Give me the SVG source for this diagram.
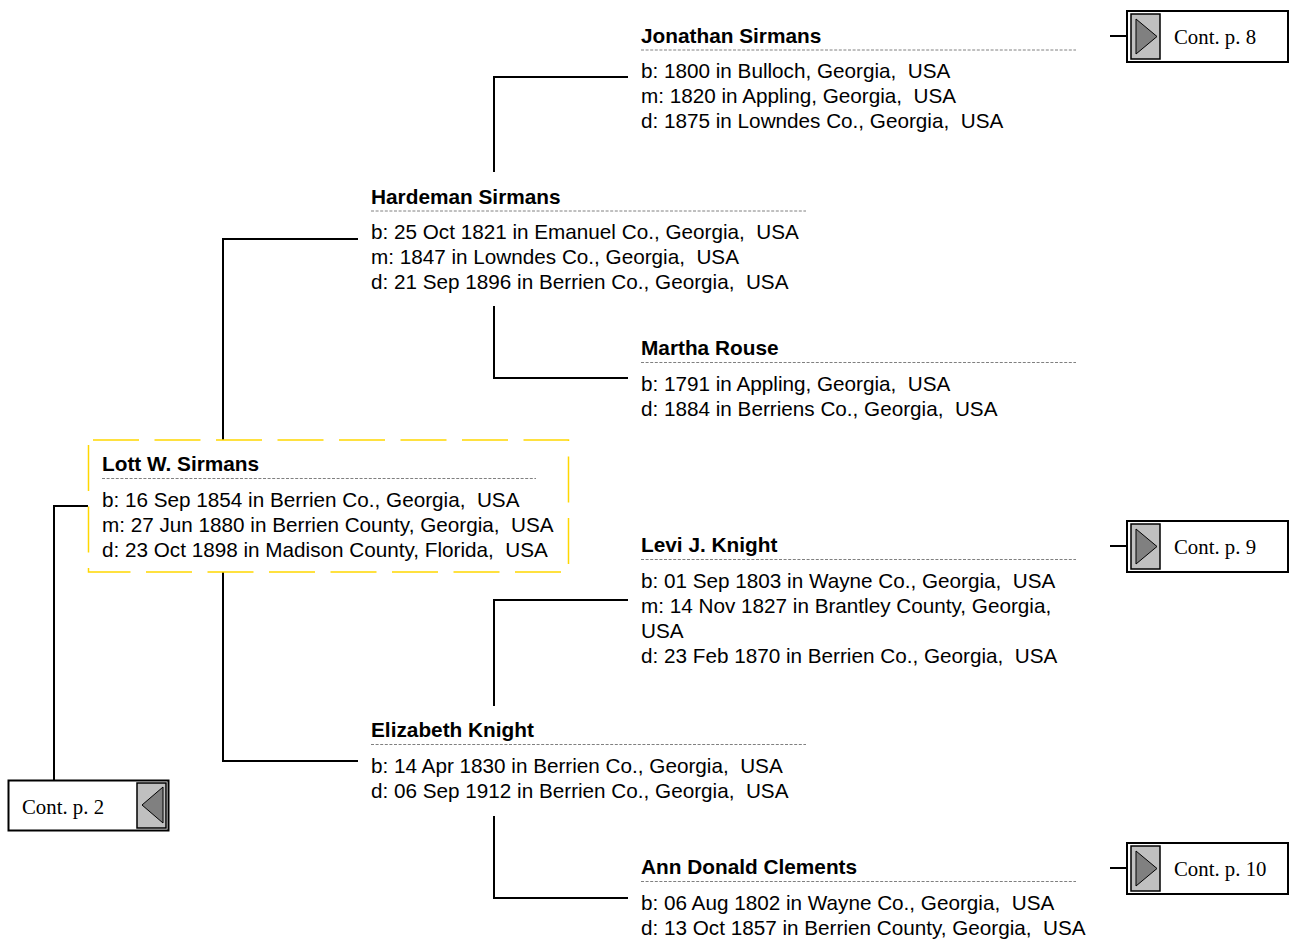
<svg xmlns="http://www.w3.org/2000/svg" width="1294" height="944" viewBox="0 0 1294 944">
<style>
text{white-space:pre}
.t{font-family:"Liberation Sans",Arial,sans-serif;font-size:20.7px;fill:#000}
.n{font-family:"Liberation Sans",Arial,sans-serif;font-size:20.8px;font-weight:bold;fill:#000}
.c{font-family:"Liberation Serif","Times New Roman",serif;font-size:20.8px;fill:#000}
.sep{stroke:#808080;stroke-width:1;stroke-dasharray:3 1.6;fill:none}
.ln{stroke:#000;stroke-width:2;fill:none}
.ob{fill:#fff;stroke:#000;stroke-width:2}
.ib{fill:#c0c0c0;stroke:#000;stroke-width:1.5}
.tri{fill:#808080;stroke:#000;stroke-width:1}
</style>
<rect width="1294" height="944" fill="#fff"/>
<g id="connectors">
<path class="ln" d="M628 77H494V172"/>
<path class="ln" d="M358 239H223V440"/>
<path class="ln" d="M494 306V378H628"/>
<path class="ln" d="M88 506H54V780"/>
<path class="ln" d="M628 600H494V706"/>
<path class="ln" d="M223 572V761H358"/>
<path class="ln" d="M494 816V898H628"/>
<path class="ln" d="M1110 36H1127"/>
<path class="ln" d="M1110 546H1127"/>
<path class="ln" d="M1110 868H1127"/>
</g>
<g id="jonathan">
<text class="n" x="641" y="42.5">Jonathan Sirmans</text>
<line class="sep" x1="641" y1="50" x2="1076" y2="50"/>
<text class="t" x="641" y="78">b: 1800 in Bulloch, Georgia,  USA</text>
<text class="t" x="641" y="103">m: 1820 in Appling, Georgia,  USA</text>
<text class="t" x="641" y="128">d: 1875 in Lowndes Co., Georgia,  USA</text>
</g>
<g id="hardeman">
<text class="n" x="371" y="203.5">Hardeman Sirmans</text>
<line class="sep" x1="371" y1="211" x2="806" y2="211"/>
<text class="t" x="371" y="239">b: 25 Oct 1821 in Emanuel Co., Georgia,  USA</text>
<text class="t" x="371" y="264">m: 1847 in Lowndes Co., Georgia,  USA</text>
<text class="t" x="371" y="289">d: 21 Sep 1896 in Berrien Co., Georgia,  USA</text>
</g>
<g id="martha">
<text class="n" x="641" y="355">Martha Rouse</text>
<line class="sep" x1="641" y1="362.5" x2="1076" y2="362.5"/>
<text class="t" x="641" y="390.5">b: 1791 in Appling, Georgia,  USA</text>
<text class="t" x="641" y="415.5">d: 1884 in Berriens Co., Georgia,  USA</text>
</g>
<g id="lott">
<rect x="88.5" y="440" width="480" height="132" fill="none" stroke="#FFD700" stroke-width="1.5" stroke-dasharray="46 15.5" stroke-dashoffset="57"/>
<text class="n" x="102" y="471">Lott W. Sirmans</text>
<line class="sep" x1="102" y1="478.5" x2="536" y2="478.5"/>
<text class="t" x="102" y="506.5">b: 16 Sep 1854 in Berrien Co., Georgia,  USA</text>
<text class="t" x="102" y="531.5">m: 27 Jun 1880 in Berrien County, Georgia,  USA</text>
<text class="t" x="102" y="556.5">d: 23 Oct 1898 in Madison County, Florida,  USA</text>
</g>
<g id="levi">
<text class="n" x="641" y="552">Levi J. Knight</text>
<line class="sep" x1="641" y1="559.5" x2="1076" y2="559.5"/>
<text class="t" x="641" y="587.5">b: 01 Sep 1803 in Wayne Co., Georgia,  USA</text>
<text class="t" x="641" y="612.5">m: 14 Nov 1827 in Brantley County, Georgia,</text>
<text class="t" x="641" y="637.5">USA</text>
<text class="t" x="641" y="662.5">d: 23 Feb 1870 in Berrien Co., Georgia,  USA</text>
</g>
<g id="elizabeth">
<text class="n" x="371" y="737">Elizabeth Knight</text>
<line class="sep" x1="371" y1="744.5" x2="806" y2="744.5"/>
<text class="t" x="371" y="772.5">b: 14 Apr 1830 in Berrien Co., Georgia,  USA</text>
<text class="t" x="371" y="797.5">d: 06 Sep 1912 in Berrien Co., Georgia,  USA</text>
</g>
<g id="ann">
<text class="n" x="641" y="874">Ann Donald Clements</text>
<line class="sep" x1="641" y1="881.5" x2="1076" y2="881.5"/>
<text class="t" x="641" y="909.5">b: 06 Aug 1802 in Wayne Co., Georgia,  USA</text>
<text class="t" x="641" y="934.5">d: 13 Oct 1857 in Berrien County, Georgia,  USA</text>
</g>
<g id="cont8">
<rect class="ob" x="1127" y="11" width="161" height="51"/>
<rect class="ib" x="1131" y="14" width="29" height="45"/>
<polygon class="tri" points="1136,19 1136,54 1157,36.5"/>
<text class="c" x="1174" y="44">Cont. p. 8</text>
</g>
<g id="cont9">
<rect class="ob" x="1127" y="521" width="161" height="51"/>
<rect class="ib" x="1131" y="524" width="29" height="45"/>
<polygon class="tri" points="1136,529 1136,564 1157,546.5"/>
<text class="c" x="1174" y="554">Cont. p. 9</text>
</g>
<g id="cont10">
<rect class="ob" x="1127" y="843" width="161" height="51"/>
<rect class="ib" x="1131" y="846" width="29" height="45"/>
<polygon class="tri" points="1136,851 1136,886 1157,868.5"/>
<text class="c" x="1174" y="876">Cont. p. 10</text>
</g>
<g id="cont2">
<rect class="ob" x="8.5" y="780.5" width="160" height="50"/>
<rect class="ib" x="137" y="783" width="29" height="45"/>
<polygon class="tri" points="163,787 163,823 142,805"/>
<text class="c" x="22" y="814">Cont. p. 2</text>
</g>
</svg>
